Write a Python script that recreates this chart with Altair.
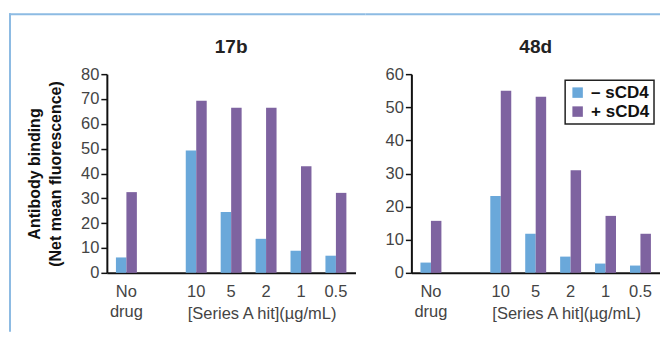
import altair as alt
import pandas as pd

categories = ["No drug", " ", "10", "5", "2", "1", "0.5"]
series = ["– sCD4", "+ sCD4"]
titles = ["17b", "48d"]
b17_minus = [6.2, None, 49.3, 24.5, 13.7, 8.9, 6.9]
b17_plus = [32.5, None, 69.3, 66.5, 66.5, 42.9, 32.2]
d48_minus = [3.1, None, 23.2, 11.8, 4.9, 2.8, 2.2]
d48_plus = [15.7, None, 55.0, 53.2, 31.0, 17.2, 11.8]
colors = ["#6aa8da", "#7e63a0"]

def frame(minus, plus):
    rows = []
    for c, m, p in zip(categories, minus, plus):
        if m is not None:
            rows.append({"conc": c, "series": series[0], "value": m})
        if p is not None:
            rows.append({"conc": c, "series": series[1], "value": p})
    return pd.DataFrame(rows)

FONT = "Liberation Sans"
BORDER = "#8dbbe3"
W, H = 249, 199
FS = 16.5
label_expr = "datum.value == 'No drug' ? ['No', 'drug'] : datum.value"

def panel(df, title, ymax, show_ytitle, show_legend):
    xaxis = alt.Axis(title="[Series A hit](µg/mL)", labelExpr=label_expr, labelAngle=0,
                     ticks=False, labelPadding=11, labelLineHeight=20,
                     titleX=155, titleY=33, titleBaseline="top",
                     titleFontWeight="normal", titleFontSize=FS, titleColor="#444",
                     titleFont=FONT)
    yaxis = alt.Axis(values=list(range(0, ymax + 1, 10)), grid=False,
                     title=["Antibody binding", "(Net mean fluorescence)"] if show_ytitle else None,
                     titleFontSize=16, titleFontWeight="bold", titleColor="#111",
                     titlePadding=17, titleLineHeight=21, titleFont=FONT)
    if show_legend:
        legend = alt.Legend(title=None, orient="none", legendX=154, legendY=6,
                            strokeColor="#222", padding=4,
                            symbolType="square", symbolSize=110, symbolStrokeWidth=0,
                            labelFontSize=17, labelFontWeight="bold", labelColor="#111",
                            labelFont=FONT, rowPadding=1, labelOffset=5)
    else:
        legend = None
    bars = alt.Chart(df).mark_bar().encode(
        x=alt.X("conc:N", sort=categories,
                scale=alt.Scale(domain=categories, paddingInner=0.4, paddingOuter=0.26),
                axis=xaxis),
        xOffset=alt.XOffset("series:N", sort=series, scale=alt.Scale(domain=series)),
        y=alt.Y("value:Q", scale=alt.Scale(domain=[0, ymax], nice=False), axis=yaxis),
        color=alt.Color("series:N", sort=series,
                        scale=alt.Scale(domain=series, range=colors), legend=legend),
    ).properties(width=W, height=H)
    head = alt.Chart(alt.Data(values=[{"t": title}])).mark_text(
        font=FONT, fontSize=19, fontWeight="bold", color="#222", baseline="middle"
    ).encode(x=alt.value(W / 2), y=alt.value(-27), text="t:N")
    return bars, head

def band(x, x2, y, y2):
    return alt.Chart(alt.Data(values=[{}])).mark_rect(color=BORDER, strokeWidth=0).encode(
        x=alt.value(x), x2=alt.value(x2), y=alt.value(y), y2=alt.value(y2))

lb, lh = panel(frame(b17_minus, b17_plus), titles[0], 80, True, False)
left_layer = alt.layer(
    lb, lh,
    band(-98, W + 10, -61, -59),
    band(-98, -96, -61, 258),
)

rb, rh = panel(frame(d48_minus, d48_plus), titles[1], 60, False, True)
right_layer = alt.layer(
    rb, rh,
    band(-46, W, -61, -59),
)

chart = alt.hconcat(left_layer, right_layer, spacing=0).resolve_scale(
    color="independent"
).properties(
    padding={"left": 1, "top": 5, "right": 0, "bottom": 0}
).configure_view(
    stroke=None
).configure_axis(
    domainColor="#111", domainWidth=2, tickColor="#111", tickSize=6, tickWidth=1.5,
    labelPadding=2, labelFont=FONT, labelFontSize=FS, labelColor="#444",
).configure_legend(strokeWidth=1.5)

chart.save("out.html", embed_options={"renderer": "svg", "actions": False})
